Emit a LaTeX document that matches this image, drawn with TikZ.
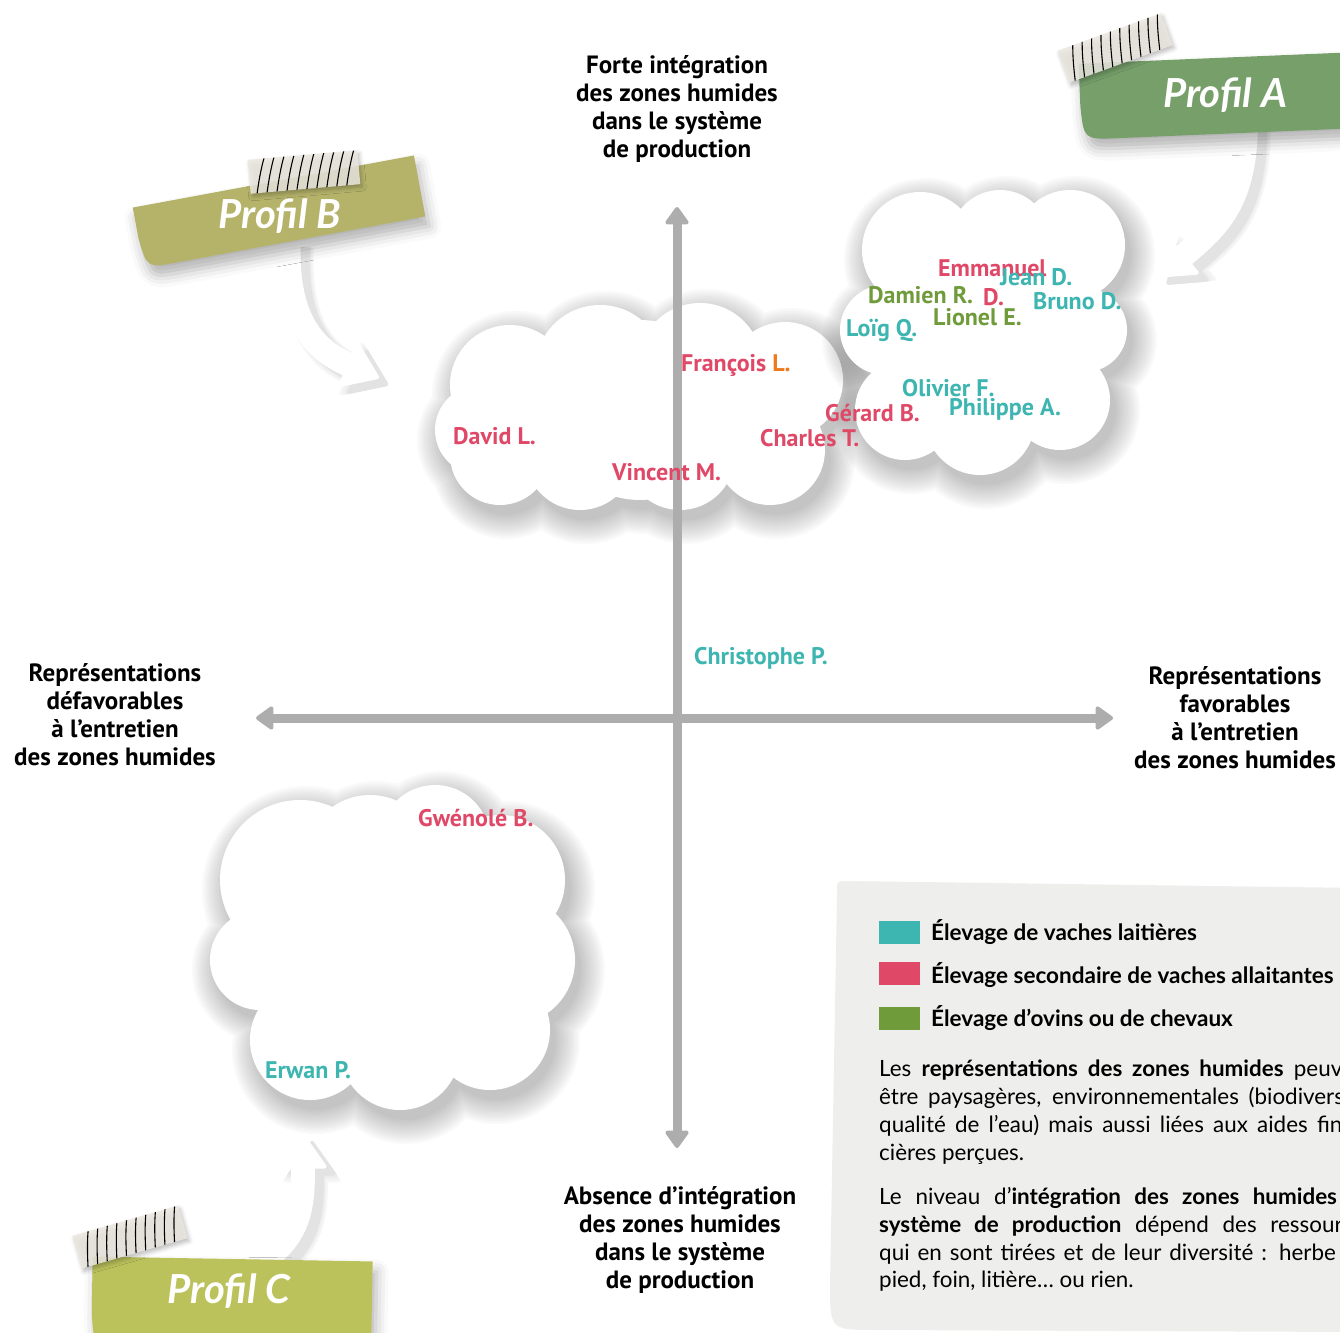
\documentclass[tikz,border=0pt]{standalone}
\usepackage{fontspec}
\setmainfont{Lato}
\newfontfamily\ptsans{PT Sans}
\usetikzlibrary{arrows.meta,shadows.blur}

\definecolor{laitier}{HTML}{3DB5B0}
\definecolor{allaitant}{HTML}{E04868}
\definecolor{ovin}{HTML}{709B3A}
\definecolor{orangeL}{HTML}{EE7A1E}
\definecolor{axegris}{HTML}{ADADAD}
\definecolor{fondlegende}{HTML}{EEEEEC}
\definecolor{profilA}{HTML}{769F6A}
\definecolor{profilB}{HTML}{B5B36A}
\definecolor{profilC}{HTML}{BBC25B}
\definecolor{scotch}{HTML}{ECE8E0}

% bout de scotch raye : centre, angle
\newcommand{\scotch}[2]{%
  \begin{scope}[shift={#1}, rotate=#2]
    \fill[scotch, opacity=.85, blur shadow={shadow xshift=2pt, shadow yshift=-3pt, shadow blur radius=4pt, shadow opacity=25}]
      (-55,-17) rectangle (55,17);
    \clip (-55,-17) rectangle (55,17);
    \foreach \s in {-44,-34,...,46}
      \draw[black, line width=1.1pt] (\s+6,-19) .. controls (\s+1,-6) and (\s-2,6) .. (\s-5,19);
  \end{scope}}

% nuage : liste x/y/rayon des bulles, ombre douce puis fond blanc
\newcommand{\nuage}[1]{%
  \foreach \k in {0,...,10}
    \fill[black, opacity=.022] \foreach \x/\y/\r in {#1} {(\x+6,\y+10) circle ({\r+2.4*\k})};
  \fill[white] \foreach \x/\y/\r in {#1} {(\x,\y) circle (\r)};}

% fleche blanche d'un profil, avec son ombre
\newcommand{\flecheprofil}[4]{%
  \foreach \w/\c/\tw/\tl in {32/3/60/43, 29/5/56/41, 26/8/53/38, 24/11/50/36}
    \draw[draw=black!\c, line width=\w pt, -{Triangle[round, width=\tw pt, length=\tl pt, line width=4pt]}, xshift=9pt, yshift=-7pt]
      ([xshift=9pt, yshift=-7pt]#1) .. controls #2 and #3 .. ([xshift=9pt, yshift=-7pt]#4);
  \draw[fleche] (#1) .. controls #2 and #3 .. (#4);}

\begin{document}
\begin{tikzpicture}[x=1pt, y=-1pt,
  axe/.style={draw=axegris, line width=9pt,
    {Triangle[round, width=26pt, length=19pt, line width=4pt]}-{Triangle[round, width=26pt, length=19pt, line width=4pt]}},
  fleche/.style={draw=white, line width=24pt, -{Triangle[round, width=50pt, length=36pt, line width=4pt]}},
  banniere/.style={blur shadow={shadow xshift=4pt, shadow yshift=-10pt, shadow blur radius=12pt, shadow opacity=30}},
  profil/.style={text=white, font=\bfseries\itshape\fontsize{40}{44}\selectfont},
  titre/.style={font=\ptsans\bfseries\fontsize{25}{28}\selectfont, align=center, inner sep=0},
  nom/.style={font=\ptsans\bfseries\fontsize{24}{26}\selectfont, anchor=west, inner sep=0},
  carre/.style={minimum width=41pt, minimum height=23pt, inner sep=0},
  legende/.style={font=\bfseries\fontsize{22.5}{26}\selectfont, anchor=west, inner sep=0},
  para/.style={font=\fontsize{22.4}{28}\selectfont, anchor=base west, inner sep=0}]
\useasboundingbox (0,0) rectangle (1340,1332);

% fond de la legende
\fill[fondlegende] (845,881) -- (1360,888) -- (1360,1332) -- (878,1330)
  .. controls (830,1330) .. (830,1285) -- (837,895) .. controls (837,881) .. (845,881) -- cycle;

% les trois nuages
\nuage{510/385/60, 480/430/45, 600/370/65, 700/365/62, 785/380/58, 770/450/55,
  680/455/55, 580/455/55, 500/455/50, 640/410/90}
\nuage{920/250/58, 1000/240/50, 1070/245/55, 1085/330/42, 1060/400/50,
  980/420/55, 905/410/50, 885/330/45, 985/330/100}
\nuage{300/880/80, 370/860/65, 435/840/55, 500/880/65, 510/960/65, 490/1030/60,
  400/1050/60, 310/1040/60, 260/960/50, 380/950/120}

% axes
\coordinate (haut) at (677,207);
\coordinate (bas) at (677,1148);
\coordinate (gauche) at (256,718);
\coordinate (droite) at (1113,718);
\draw[axe] (haut) -- (bas);
\draw[axe] (gauche) -- (droite);

\node[titre] (forte) at (677,109) {Forte intégration\\des zones humides\\dans le système\\de production};
\node[titre] (absence) at (680,1240) {Absence d’intégration\\des zones humides\\dans le système\\de production};
\node[titre] (defav) at (115,715) {Représentations\\défavorables\\à l’entretien\\des zones humides};
\node[titre] (fav) at (1235,718) {Représentations\\favorables\\à l’entretien\\des zones humides};

% fleches des profils
\coordinate (depA) at (1246,120);
\coordinate (finA) at (1158,277);
\coordinate (depB) at (289,240);
\coordinate (finB) at (379,378);
\coordinate (depC) at (250,1270);
\coordinate (finC) at (303,1134);
\flecheprofil{depA}{(1246,200)}{(1220,225)}{finA}
\flecheprofil{depB}{(285,320)}{(315,350)}{finB}
\flecheprofil{depC}{(300,1240)}{(303,1210)}{finC}

% bannieres
\begin{scope}[shift={(1240,95)}, rotate=2.4]
  \fill[profilA, banniere] (-160,-38) -- (170,-38) -- (170,38) -- (-124,38) .. controls (-158,38) .. (-160,4) -- cycle;
  \node[profil] (profA) at (-15,0) {Profil A};
\end{scope}
\begin{scope}[shift={(279,212)}, rotate=10.5]
  \fill[profilB, banniere] (-143,-31) -- (143,-31) -- (143,31) -- (-110,31) .. controls (-140,31) .. (-143,0) -- cycle;
  \node[profil] (profB) at (0,4) {Profil B};
\end{scope}
\begin{scope}[shift={(232,1297)}, rotate=-1]
  \fill[profilC, banniere] (-140,-38) -- (140,-38) -- (140,50) -- (-108,50) .. controls (-138,50) .. (-140,15) -- cycle;
  \node[profil] (profC) at (-3,-6) {Profil C};
\end{scope}
\scotch{(1115,48)}{20}
\scotch{(304,172)}{5}
\scotch{(130,1237)}{16}

% eleveurs
\node[nom, allaitant] (emmanuel) at (938,268) {Emmanuel};
\node[nom, laitier] (jean) at (1000,277) {Jean D.};
\node[nom, ovin] (damien) at (868,295) {Damien R.};
\node[nom, allaitant] (emmanuelD) at (983,297) {D.};
\node[nom, laitier] (bruno) at (1033,301) {Bruno D.};
\node[nom, ovin] (lionel) at (933,317) {Lionel E.};
\node[nom, laitier] (loig) at (846,330) {Loïg Q.};
\node[nom, laitier] (olivier) at (902,388) {Olivier F.};
\node[nom, laitier] (philippe) at (949,409) {Philippe A.};
\node[nom, allaitant] (gerard) at (825,413) {Gérard B.};
\node[nom, allaitant] (francois) at (681,365) {François \textcolor{orangeL}{L.}};
\node[nom, allaitant] (charles) at (760,438) {Charles T.};
\node[nom, allaitant] (david) at (453,436) {David L.};
\node[nom, allaitant] (vincent) at (612,472) {Vincent M.};
\node[nom, laitier] (christophe) at (694,658) {Christophe P.};
\node[nom, allaitant] (gwenole) at (418,818) {Gwénolé B.};
\node[nom, laitier] (erwan) at (265,1070) {Erwan P.};

% legende
\node[carre, fill=laitier] (c1) at (899.5,932.5) {};
\node[carre, fill=allaitant] (c2) at (899.5,973.5) {};
\node[carre, fill=ovin] (c3) at (899.5,1018.5) {};
\node[legende] (l1) at (931,932) {Élevage de vaches laitières};
\node[legende] (l2) at (931,975) {Élevage secondaire de vaches allaitantes};
\node[legende] (l3) at (931,1018) {Élevage d’ovins ou de chevaux};

\node[para] (p1) at (879,1076) {\makebox[495pt][s]{Les \textbf{représentations des zones humides} peuvent}};
\node[para] (p2) at (879,1104) {\makebox[495pt][s]{être paysagères, environnementales (biodiversité,}};
\node[para] (p3) at (879,1132) {\makebox[495pt][s]{qualité de l’eau) mais aussi liées aux aides finan-}};
\node[para] (p4) at (879,1160) {cières perçues.};
\node[para] (p5) at (879,1204) {\makebox[495pt][s]{Le niveau d’\textbf{intégration des zones humides au}}};
\node[para] (p6) at (879,1232) {\makebox[495pt][s]{\textbf{système de production} dépend des ressources}};
\node[para] (p7) at (879,1260) {\makebox[495pt][s]{qui en sont tirées et de leur diversité : herbe sur}};
\node[para] (p8) at (879,1287) {pied, foin, litière… ou rien.};
\end{tikzpicture}
\end{document}
